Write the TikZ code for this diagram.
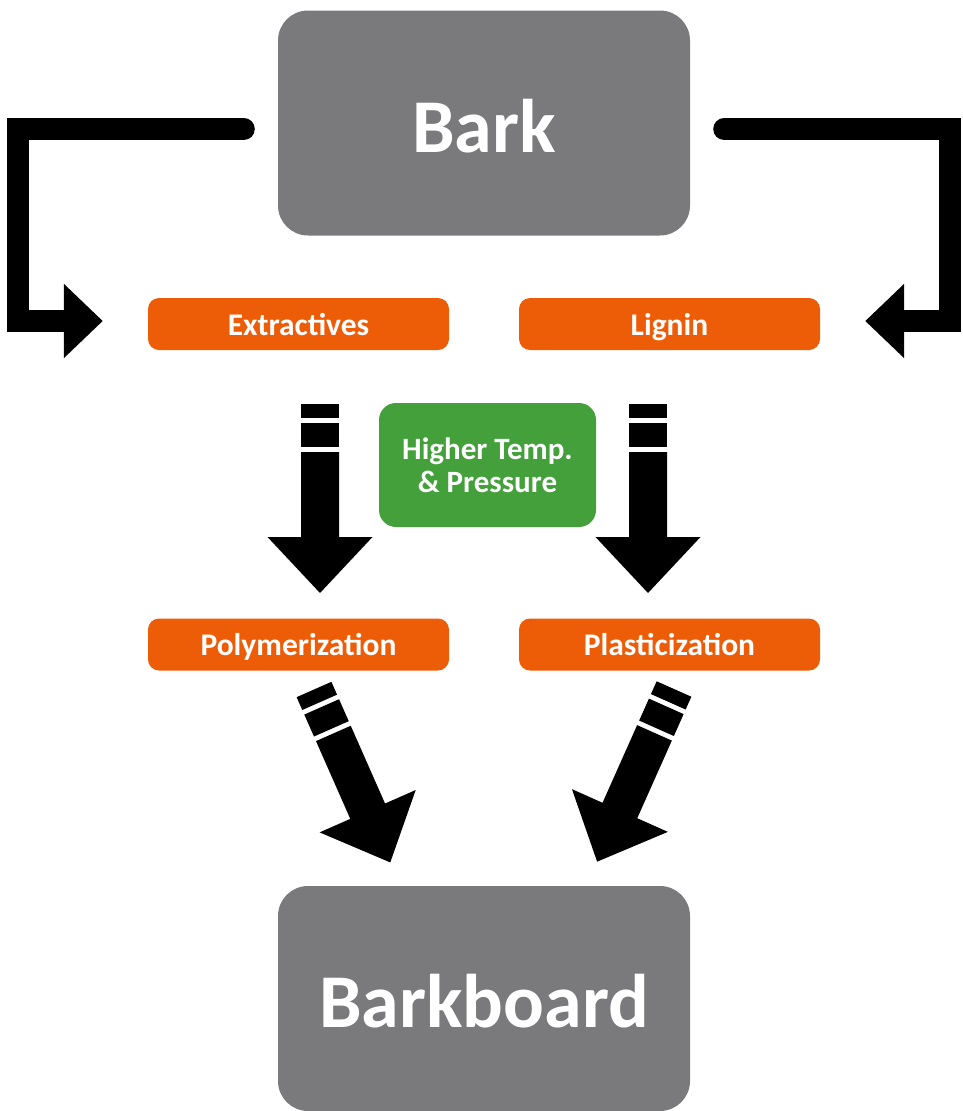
\documentclass[tikz,border=0pt]{standalone}
\usepackage{fontspec}
\setmainfont{Carlito}
\usetikzlibrary{arrows.meta,calc}
\definecolor{barkgray}{RGB}{122,122,124}
\definecolor{stageorange}{RGB}{237,93,7}
\definecolor{condgreen}{RGB}{67,160,58}

\begin{document}
\begin{tikzpicture}[
    x=1pt, y=-1pt,
    big/.style={rectangle, rounded corners=30pt, fill=barkgray, text=white, minimum width=412pt, minimum height=225pt, text height=60pt, text depth=1.5pt, font=\fontsize{76}{80}\selectfont\bfseries},
    stage/.style={rectangle, rounded corners=11pt, fill=stageorange, text=white, minimum width=301pt, minimum height=52pt, inner sep=0pt, text height=24.5pt, text depth=2pt, font=\fontsize{31.5}{33}\selectfont\bfseries},
    cond/.style={rectangle, rounded corners=17pt, fill=condgreen, text=white, minimum width=217pt, minimum height=124pt, inner sep=0pt, align=center, font=\fontsize{31}{33}\selectfont\bfseries},
    elbow/.style={line width=22pt, line cap=round, -{Triangle[length=39pt, width=72pt]}},
    fatarrow/.pic={
        \fill (-19,0) rectangle (19,14);
        \fill (-19,19) rectangle (19,43);
        \fill (-19,48) -- (19,48) -- (19,133) -- (52.5,133) -- (0,189) -- (-52.5,133) -- (-19,133) -- cycle;
    }
]
    \useasboundingbox (0,0) rectangle (962,1111);

    % Boxes
    \node[big] (bark) at (484,123) {Bark};
    \node[big] (board) at (484,998.5) {Barkboard};

    \node[stage] (ext) at (298.5,324) {Extractives};
    \node[stage] (lig) at (669.5,324) {Lignin};
    \node[stage] (poly) at (298.5,644.5) {Polymerization};
    \node[stage] (plast) at (669.5,644.5) {Plasticization};

    \node[cond] (heat) at (487.5,465) {Higher Temp.\\\& Pressure};

    % Arrows from Bark
    \draw[elbow] ($(bark.west)+(-34,6)$) -- ++(-226,0) |- ($(ext.west)+(-45,-3)$);
    \draw[elbow] ($(bark.east)+(34,6)$) -- ++(226,0) |- ($(lig.east)+(45,-3)$);

    % Process arrows
    \coordinate (d1) at (320,404);
    \coordinate (d2) at (648,404);
    \coordinate (d3) at (314,689.5);
    \coordinate (d4) at (674,689);
    \pic at (d1) {fatarrow};
    \pic at (d2) {fatarrow};
    \pic[rotate=23.8] at (d3) {fatarrow};
    \pic[rotate=-24] at (d4) {fatarrow};

\end{tikzpicture}
\end{document}
